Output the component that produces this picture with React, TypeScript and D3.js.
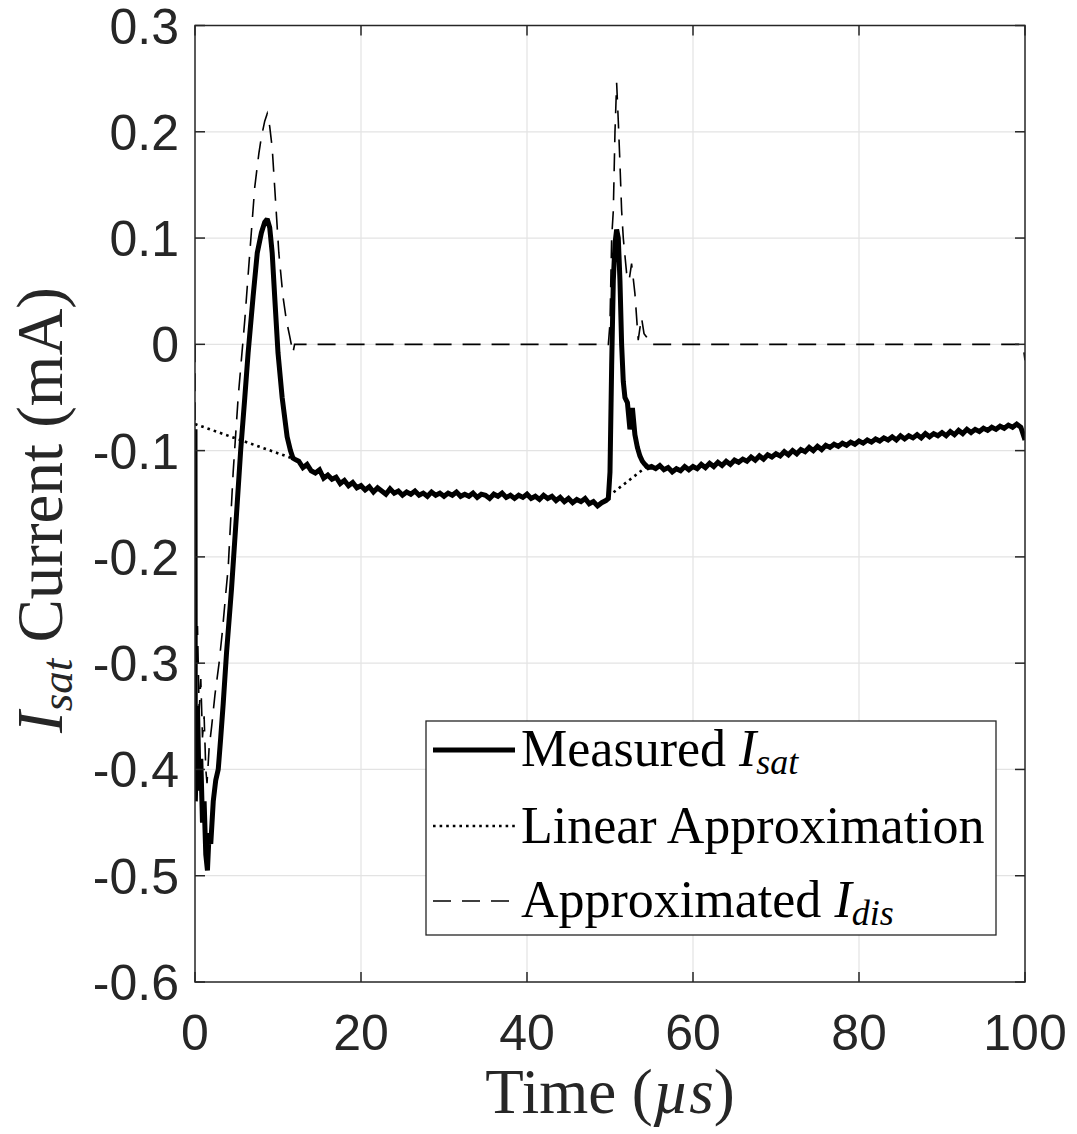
import React from "react";
import * as d3 from "d3";

// ---------- data (time in µs, current in mA) ----------
const measuredRise: [number, number][] = [
  [0, -0.08], [0.04, -0.43], [0.3, -0.34], [0.5, -0.42], [0.7, -0.39],
  [0.9, -0.45], [1.1, -0.43], [1.3, -0.48], [1.5, -0.495], [1.7, -0.46], [1.9, -0.47],
  [2.2, -0.43], [2.5, -0.41], [2.8, -0.4], [3.1, -0.37], [3.4, -0.338], [3.8, -0.29],
  [4.4, -0.23], [5.0, -0.16], [5.5, -0.1], [6.0, -0.05], [6.4, -0.008], [7.0, 0.045],
  [7.5, 0.086], [8.0, 0.105], [8.4, 0.115], [8.7, 0.118], [9.0, 0.11], [9.3, 0.086],
  [9.6, 0.045], [10.0, -0.008], [10.5, -0.05], [11.1, -0.087], [11.5, -0.1],
  [11.8, -0.107], [12.0, -0.108],
];

const measuredBase1: [number, number][] = [
  [12.5, -0.11], [13.0, -0.116], [13.5, -0.113], [14.0, -0.119], [14.5, -0.121],
  [15.0, -0.118], [15.5, -0.126], [16.0, -0.123], [16.5, -0.127], [17.0, -0.125],
  [17.5, -0.131], [18.0, -0.128], [18.5, -0.133], [19.0, -0.13], [19.5, -0.135],
  [20.0, -0.133], [20.5, -0.137], [21.0, -0.134], [21.5, -0.139], [22.0, -0.135],
  [22.5, -0.138], [23.0, -0.141], [23.5, -0.136], [24.0, -0.14], [24.5, -0.138],
  [25.0, -0.142], [25.5, -0.139], [26.0, -0.141], [26.5, -0.138], [27.0, -0.142],
  [27.5, -0.14], [28.0, -0.143], [28.5, -0.139], [29.0, -0.142], [29.5, -0.14],
  [30.0, -0.143], [30.5, -0.14], [31.0, -0.142], [31.5, -0.139], [32.0, -0.143],
  [32.5, -0.141], [33.0, -0.143], [33.5, -0.14], [34.0, -0.144], [34.5, -0.141],
  [35.0, -0.142], [35.5, -0.145], [36.0, -0.141], [36.5, -0.143], [37.0, -0.14],
  [37.5, -0.144], [38.0, -0.142], [38.5, -0.145], [39.0, -0.142], [39.5, -0.144],
  [40.0, -0.141], [40.5, -0.145], [41.0, -0.143], [41.5, -0.146], [42.0, -0.142],
  [42.5, -0.145], [43.0, -0.143], [43.5, -0.147], [44.0, -0.144], [44.5, -0.148],
  [45.0, -0.145], [45.5, -0.149], [46.0, -0.146], [46.5, -0.148], [47.0, -0.145],
  [47.5, -0.15], [48.0, -0.148], [48.5, -0.152], [49.0, -0.149], [49.5, -0.147],
];

const measuredSpike: [number, number][] = [
  [49.8, -0.145], [50.0, -0.12], [50.2, -0.02], [50.4, 0.06], [50.6, 0.095],
  [50.8, 0.108], [51.0, 0.1], [51.2, 0.06], [51.4, 0.0], [51.6, -0.035],
  [51.8, -0.05], [52.1, -0.055], [52.4, -0.08], [52.7, -0.06], [53.0, -0.085],
  [53.3, -0.097], [53.6, -0.105], [53.9, -0.11], [54.2, -0.113], [54.6, -0.116],
];

const measuredBase2: [number, number][] = [
  [55.0, -0.115], [55.5, -0.117], [56.0, -0.114], [56.5, -0.118], [57.0, -0.116],
  [57.5, -0.12], [58.0, -0.117], [58.5, -0.119], [59.0, -0.115], [59.5, -0.118],
  [60.0, -0.115], [60.5, -0.117], [61.0, -0.113], [61.5, -0.116], [62.0, -0.112],
  [62.5, -0.115], [63.0, -0.111], [63.5, -0.114], [64.0, -0.11], [64.5, -0.113],
  [65.0, -0.109], [65.5, -0.111], [66.0, -0.108], [66.5, -0.11], [67.0, -0.106],
  [67.5, -0.109], [68.0, -0.105], [68.5, -0.108], [69.0, -0.104], [69.5, -0.106],
  [70.0, -0.103], [70.5, -0.105], [71.0, -0.101], [71.5, -0.104], [72.0, -0.1],
  [72.5, -0.103], [73.0, -0.099], [73.5, -0.101], [74.0, -0.097], [74.5, -0.1],
  [75.0, -0.096], [75.5, -0.099], [76.0, -0.095], [76.5, -0.097], [77.0, -0.094],
  [77.5, -0.096], [78.0, -0.093], [78.5, -0.095], [79.0, -0.092], [79.5, -0.094],
  [80.0, -0.091], [80.5, -0.093], [81.0, -0.09], [81.5, -0.092], [82.0, -0.089],
  [82.5, -0.091], [83.0, -0.088], [83.5, -0.09], [84.0, -0.087], [84.5, -0.09],
  [85.0, -0.086], [85.5, -0.089], [86.0, -0.086], [86.5, -0.088], [87.0, -0.085],
  [87.5, -0.088], [88.0, -0.084], [88.5, -0.087], [89.0, -0.084], [89.5, -0.086],
  [90.0, -0.083], [90.5, -0.086], [91.0, -0.082], [91.5, -0.085], [92.0, -0.081],
  [92.5, -0.084], [93.0, -0.08], [93.5, -0.083], [94.0, -0.08], [94.5, -0.082],
  [95.0, -0.079], [95.5, -0.081], [96.0, -0.078], [96.5, -0.08], [97.0, -0.077],
  [97.5, -0.079], [98.0, -0.076], [98.5, -0.078], [99.0, -0.075], [99.5, -0.078],
  [100.0, -0.09],
];

const linearSeg1: [number, number][] = [[0, -0.075], [12, -0.108]];
const linearSeg2: [number, number][] = [[49.8, -0.143], [54.6, -0.114]];

const dischargeApprox: [number, number][] = [
  [0, 0], [0.04, -0.355], [0.3, -0.265], [0.5, -0.345], [0.7, -0.315],
  [0.9, -0.37], [1.1, -0.35], [1.3, -0.4], [1.45, -0.413], [1.7, -0.38], [2.0, -0.36],
  [2.4, -0.33], [2.9, -0.3], [3.3, -0.27], [3.7, -0.235], [4.0, -0.21], [4.2, -0.18],
  [4.6, -0.12], [5.2, -0.05], [6.0, 0.023], [6.6, 0.086], [7.2, 0.148], [7.7, 0.18],
  [8.0, 0.195], [8.4, 0.21], [8.7, 0.217], [9.0, 0.205], [9.3, 0.185], [9.6, 0.148],
  [10.1, 0.086], [10.6, 0.045], [11.0, 0.023], [11.4, 0.008], [11.8, -0.008], [12.0, 0],
  [49.8, 0], [50.0, 0.02], [50.2, 0.1], [50.4, 0.126], [50.6, 0.2], [50.8, 0.246],
  [51.0, 0.21], [51.2, 0.17], [51.4, 0.126], [51.6, 0.1], [52.0, 0.067], [52.3, 0.06],
  [52.6, 0.076], [53.0, 0.048], [53.4, 0.004], [53.6, 0.015], [53.8, 0.025],
  [54.1, 0.01], [54.4, 0.007], [54.8, 0], [99.6, 0], [99.8, -0.003], [100, -0.015],
];

const xTicks = [0, 20, 40, 60, 80, 100];
const yTicks = [-0.6, -0.5, -0.4, -0.3, -0.2, -0.1, 0, 0.1, 0.2, 0.3];
const yTickLabels = ["-0.6", "-0.5", "-0.4", "-0.3", "-0.2", "-0.1", "0", "0.1", "0.2", "0.3"];

// ---------- layout ----------
const W = 1077;
const H = 1134;
const L = 195, R = 1025, T = 25.5, B = 982;
const TICK = 10;
const AX = "#262626";
const GRID = "#e3e3e3";
const SANS = "'Liberation Sans', Arial, Helvetica, sans-serif";
const SERIF = "'Liberation Serif', 'Times New Roman', serif";

export default function App() {
  const x = d3.scaleLinear().domain([0, 100]).range([L, R]);
  const y = d3.scaleLinear().domain([-0.6, 0.3]).range([B, T]);
  const line = d3.line<[number, number]>().x((d) => x(d[0])).y((d) => y(d[1]));
  const measured = [...measuredRise, ...measuredBase1, ...measuredSpike, ...measuredBase2];

  const legendX = 426, legendY = 721, legendW = 570, legendH = 214;
  const rows = [750, 826, 901];
  const LF = 52;

  return (
    <svg width={W} height={H} style={{ position: "absolute", left: 0, top: 0, background: "#fff" }}>
      <defs>
        <clipPath id="plot">
          <rect x={L} y={T} width={R - L} height={B - T} />
        </clipPath>
      </defs>
      <rect x={0} y={0} width={W} height={H} fill="#fff" />
      {/* grid */}
      {xTicks.slice(1, -1).map((t) => (
        <line key={"gx" + t} x1={x(t)} x2={x(t)} y1={T} y2={B} stroke={GRID} strokeWidth={1.2} />
      ))}
      {yTicks.slice(1, -1).map((t) => (
        <line key={"gy" + t} x1={L} x2={R} y1={y(t)} y2={y(t)} stroke={GRID} strokeWidth={1.2} />
      ))}
      <g clipPath="url(#plot)" fill="none">
        <path d={line(linearSeg1) || ""} stroke="#000" strokeWidth={2.6} strokeDasharray="2.6,4" />
        <path d={line(linearSeg2) || ""} stroke="#000" strokeWidth={2.6} strokeDasharray="2.6,4" />
        <path d={line(dischargeApprox) || ""} stroke="#000" strokeWidth={1.6} strokeDasharray="18,11" />
        <path d={line(measured) || ""} stroke="#000" strokeWidth={5} strokeLinejoin="miter" strokeMiterlimit={2} />
      </g>
      {/* frame */}
      <rect x={L} y={T} width={R - L} height={B - T} fill="none" stroke={AX} strokeWidth={1.5} />
      {xTicks.map((t) => (
        <g key={"tx" + t}>
          <line x1={x(t)} x2={x(t)} y1={B} y2={B - TICK} stroke={AX} strokeWidth={1.5} />
          <line x1={x(t)} x2={x(t)} y1={T} y2={T + TICK} stroke={AX} strokeWidth={1.5} />
          <text x={x(t)} y={1050} textAnchor="middle" fontFamily={SANS} fontSize={50} fill={AX}>
            {t}
          </text>
        </g>
      ))}
      {yTicks.map((t, i) => (
        <g key={"ty" + i}>
          <line x1={L} x2={L + TICK} y1={y(t)} y2={y(t)} stroke={AX} strokeWidth={1.5} />
          <line x1={R} x2={R - TICK} y1={y(t)} y2={y(t)} stroke={AX} strokeWidth={1.5} />
          <text x={179} y={y(t)} dy="0.36em" textAnchor="end" fontFamily={SANS} fontSize={50} fill={AX}>
            {yTickLabels[i]}
          </text>
        </g>
      ))}
      {/* axis labels */}
      <text x={(L + R) / 2} y={1113} textAnchor="middle" fontFamily={SERIF} fontSize={63} fill={AX}>
        Time (<tspan fontStyle="italic">µs</tspan>)
      </text>
      <text transform="translate(62,510) rotate(-90)" textAnchor="middle" fontFamily={SERIF} fontSize={65} fill={AX}>
        <tspan fontStyle="italic">I</tspan>
        <tspan fontStyle="italic" fontSize={45} dy={10}>sat</tspan>
        <tspan dy={-10}> Current (mA)</tspan>
      </text>
      {/* legend */}
      <rect x={legendX} y={legendY} width={legendW} height={legendH} fill="#fff" stroke={AX} strokeWidth={1.3} />
      <line x1={433} x2={515} y1={rows[0]} y2={rows[0]} stroke="#000" strokeWidth={5} />
      <line x1={433} x2={515} y1={rows[1]} y2={rows[1]} stroke="#000" strokeWidth={2.6} strokeDasharray="2.6,4" />
      <line x1={433} x2={515} y1={rows[2]} y2={rows[2]} stroke="#000" strokeWidth={1.6} strokeDasharray="18,11" />
      <text x={521} y={rows[0] + 16} fontFamily={SERIF} fontSize={LF} fill="#000">
        Measured <tspan fontStyle="italic">I</tspan>
        <tspan fontStyle="italic" fontSize={36} dy={8}>sat</tspan>
      </text>
      <text x={521} y={rows[1] + 17} fontFamily={SERIF} fontSize={LF} fill="#000">
        Linear Approximation
      </text>
      <text x={521} y={rows[2] + 16} fontFamily={SERIF} fontSize={LF} fill="#000">
        Approximated <tspan fontStyle="italic">I</tspan>
        <tspan fontStyle="italic" fontSize={36} dy={8}>dis</tspan>
      </text>
    </svg>
  );
}
